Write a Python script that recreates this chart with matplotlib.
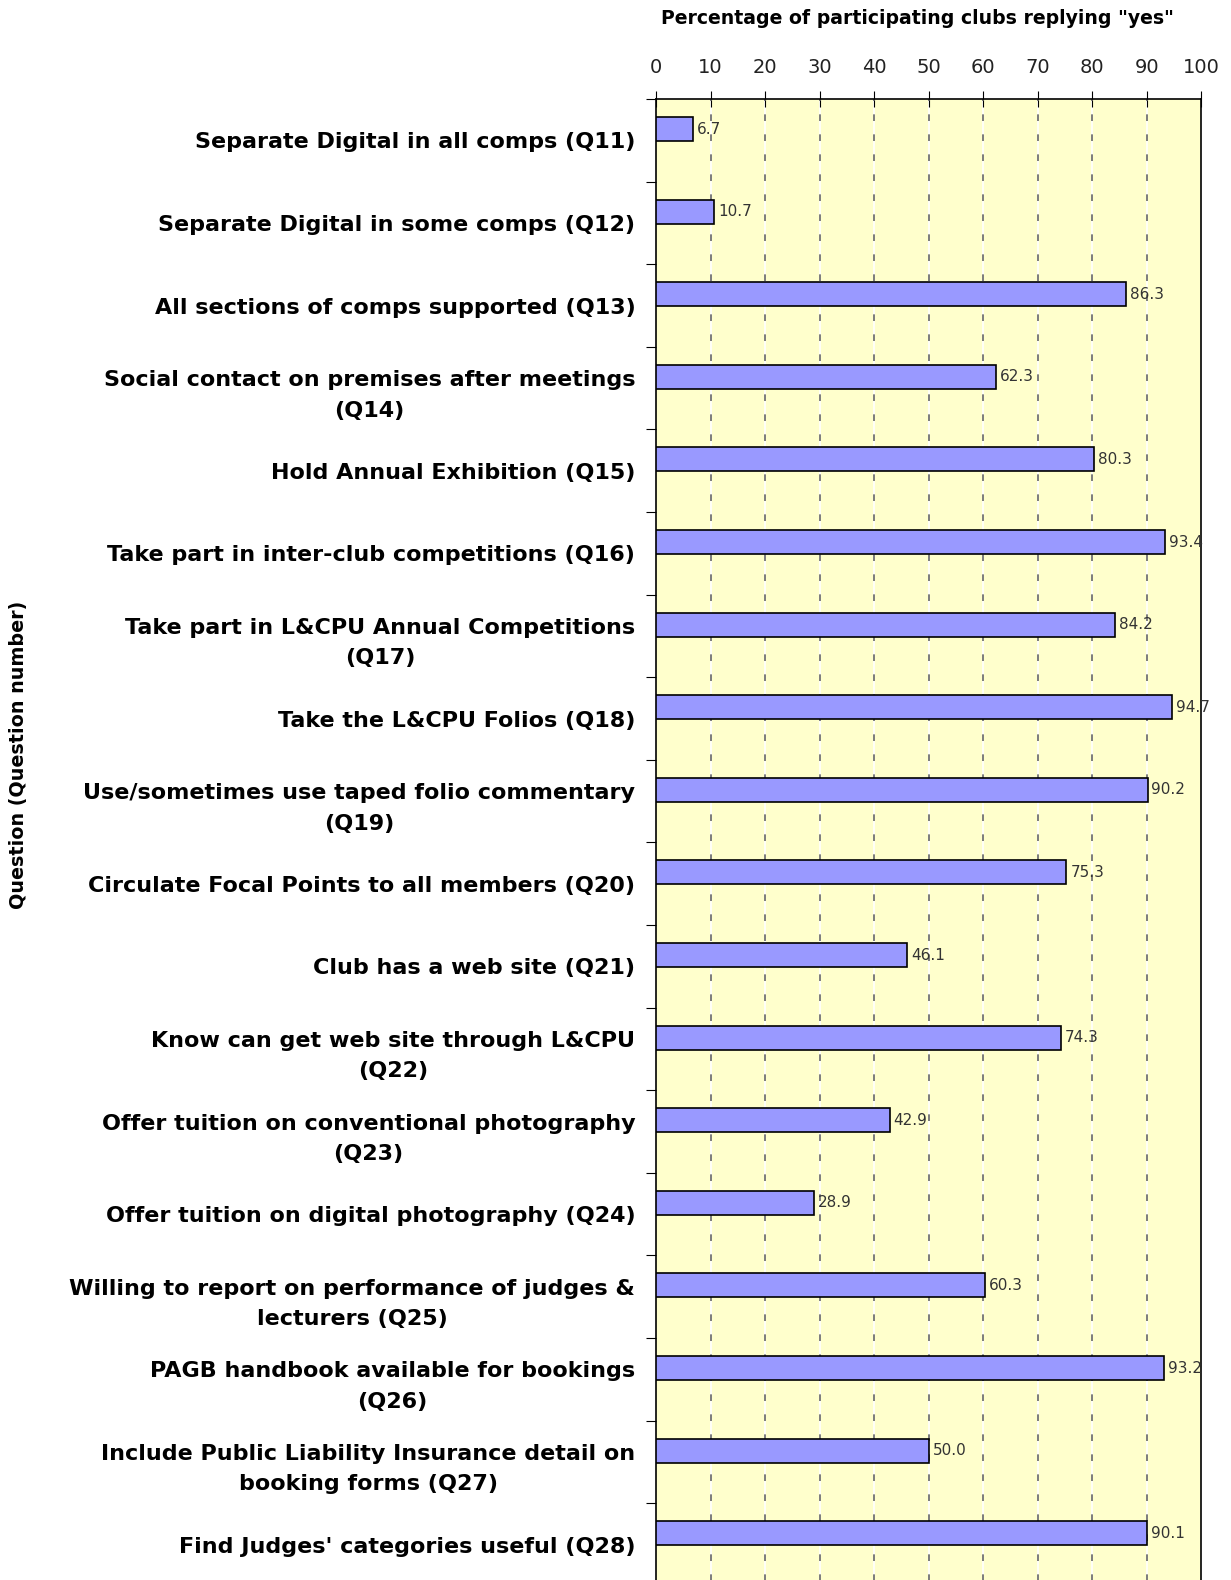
import numpy as np
import matplotlib.pyplot as plt

# question labels and % of clubs answering "yes"
questions = [
    "Separate Digital in all comps (Q11)",
    "Separate Digital in some comps (Q12)",
    "All sections of comps supported (Q13)",
    "Social contact on premises after meetings\n(Q14)",
    "Hold Annual Exhibition (Q15)",
    "Take part in inter-club competitions (Q16)",
    "Take part in L&CPU Annual Competitions\n(Q17)",
    "Take the L&CPU Folios (Q18)",
    "Use/sometimes use taped folio commentary\n(Q19)",
    "Circulate Focal Points to all members (Q20)",
    "Club has a web site (Q21)",
    "Know can get web site through L&CPU\n(Q22)",
    "Offer tuition on conventional photography\n(Q23)",
    "Offer tuition on digital photography (Q24)",
    "Willing to report on performance of judges &\nlecturers (Q25)",
    "PAGB handbook available for bookings\n(Q26)",
    "Include Public Liability Insurance detail on\nbooking forms (Q27)",
    "Find Judges' categories useful (Q28)",
]
yes_pct = [6.7, 10.7, 86.3, 62.3, 80.3, 93.4, 84.2, 94.7, 90.2,
           75.3, 46.1, 74.3, 42.9, 28.9, 60.3, 93.2, 50.0, 90.1]
x_ticks = list(range(0, 101, 10))


def main():
    n = len(questions)
    fig = plt.figure(figsize=(12.31, 15.80), dpi=100)
    ax = fig.add_axes([0.533, -0.0037, 0.4427, 0.941])
    ax.set_facecolor("#FFFFCC")

    pos = np.arange(n)
    ax.barh(pos - 0.137, yes_pct, height=0.29, color="#9999FF",
            edgecolor="black", linewidth=1.2, zorder=3)
    for p, v in zip(pos, yes_pct):
        ax.text(v + 0.7, p - 0.137, f"{v:.1f}", va="center", ha="left",
                fontsize=11, color="#333333", zorder=4, clip_on=False)

    ax.set_xlim(0, 100)
    ax.set_ylim(n - 0.5, -0.5)

    # gridlines: white line with grey dashes over it
    for x in x_ticks[1:-1]:
        ax.axvline(x, color="white", linewidth=1.2, zorder=1)
        ax.axvline(x, color="#666666", linewidth=1.2,
                   linestyle=(0, (4, 8)), zorder=2)

    ax.xaxis.tick_top()
    ax.set_xticks(x_ticks)
    ax.set_xticklabels([str(t) for t in x_ticks], fontsize=14,
                       color="#222222")
    ax.tick_params(axis="x", direction="inout", length=12, pad=10)

    ax.set_yticks(np.arange(n + 1) - 0.5)
    ax.set_yticklabels([])
    ax.tick_params(axis="y", which="major", direction="out", length=7)
    ax.set_yticks(pos, minor=True)
    ax.set_yticklabels(questions, minor=True, fontsize=16,
                       fontweight="bold", multialignment="center",
                       linespacing=1.65)
    ax.tick_params(axis="y", which="minor", length=0, pad=15)

    for s in ax.spines.values():
        s.set_linewidth(1.2)

    fig.text(0.745, 0.988, 'Percentage of participating clubs replying "yes"',
             ha="center", va="center", fontsize=13.6, fontweight="bold")
    fig.text(0.015, 0.522, "Question (Question number)", rotation=90,
             ha="center", va="center", fontsize=13.8, fontweight="bold")

    fig.savefig("out.png", dpi=100)


if __name__ == "__main__":
    main()
